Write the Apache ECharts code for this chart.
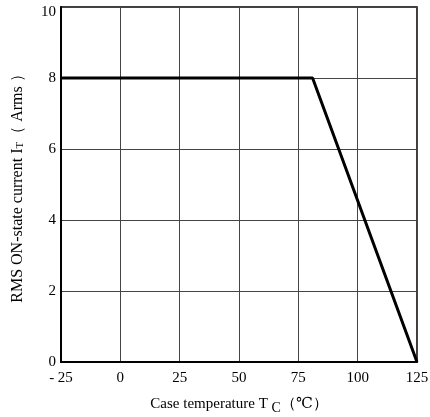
<!DOCTYPE html>
<html>
<head>
<meta charset="utf-8">
<script src="https://cdn.jsdelivr.net/npm/echarts@6/dist/echarts.min.js"></script>
<style>
  html, body { margin: 0; padding: 0; background: #fff; }
  #chart { width: 430px; height: 417px; }
</style>
</head>
<body>
<div id="chart"></div>
<script>
// derating curve: case temperature (°C) vs RMS on-state current (A)
const caseTemp = [-25, 81, 125]
const rmsCurrent = [8, 8, 0]
const xTicks = [-25, 0, 25, 50, 75, 100, 125]
const yTicks = [0, 2, 4, 6, 8, 10]

const serif = '"Liberation Serif", "DejaVu Serif", serif'

const myChart = echarts.init(document.getElementById('chart'))

myChart.setOption({
  animation: false,
  backgroundColor: '#fff',
  grid: {
    left: 61,
    right: 13,
    top: 7,
    bottom: 55,
    outerBoundsMode: 'none',
    containLabel: false,
    show: true,
    borderColor: '#000',
    borderWidth: 1.5
  },
  xAxis: {
    type: 'value',
    min: xTicks[0],
    max: xTicks[xTicks.length - 1],
    interval: 25,
    name: 'Case temperature T {sub|C}\uff08\u2103\uff09',
    nameLocation: 'middle',
    nameGap: 32,
    nameTextStyle: {
      fontFamily: serif,
      fontSize: 15,
      color: '#000',
      rich: {
        sub: { fontFamily: serif, fontSize: 14, color: '#000', padding: [7, 0, 0, 0] }
      }
    },
    axisLine: { onZero: false, lineStyle: { color: '#000', width: 2 } },
    axisTick: { show: false },
    axisLabel: {
      fontFamily: serif,
      fontSize: 15,
      color: '#000',
      margin: 9,
      formatter: v => (v < 0 ? '- ' + Math.abs(v) : String(v))
    },
    splitLine: { show: true, lineStyle: { color: '#444', width: 1 } }
  },
  yAxis: {
    type: 'value',
    min: yTicks[0],
    max: yTicks[yTicks.length - 1],
    interval: 2,
    name: 'RMS ON-state current I{sub|T}\uff08 Arms \uff09',
    nameLocation: 'middle',
    nameGap: 35,
    nameRotate: 90,
    nameTextStyle: {
      fontFamily: serif,
      fontSize: 16,
      color: '#000',
      rich: {
        sub: { fontFamily: serif, fontSize: 11, color: '#000', padding: [6, 0, 0, 0] }
      }
    },
    axisLine: { show: true, onZero: false, lineStyle: { color: '#000', width: 2 } },
    axisTick: { show: false },
    axisLabel: {
      fontFamily: serif,
      fontSize: 15,
      color: '#000',
      margin: 5,
      formatter: v => (v === 10 ? '{top|10}' : String(v)),
      rich: {
        top: { fontFamily: serif, fontSize: 15, color: '#000', padding: [10, 0, 0, 0] }
      }
    },
    splitLine: { show: true, lineStyle: { color: '#444', width: 1 } }
  },
  series: [
    {
      type: 'line',
      data: caseTemp.map((t, i) => [t, rmsCurrent[i]]),
      showSymbol: false,
      lineStyle: { color: '#000', width: 3 },
      z: 5
    }
  ]
})
</script>
</body>
</html>
